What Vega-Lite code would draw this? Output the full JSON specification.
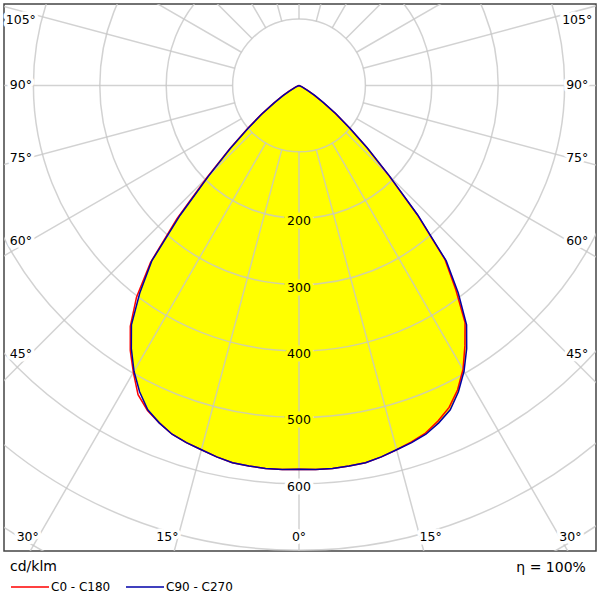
{
  "$schema": "https://vega.github.io/schema/vega-lite/v6.json",
  "autosize": {"type": "none"},
  "padding": {"left": 4, "top": 4, "right": 4, "bottom": 49},
  "width": 592,
  "height": 547,
  "background": "#ffffff",
  "datasets": {
    "curve": [
      {"s": "C0 - C180", "g": -90, "I": 0}, {"s": "C0 - C180", "g": -80, "I": 0}, {"s": "C0 - C180", "g": -70, "I": 0},
      {"s": "C0 - C180", "g": -65, "I": 6}, {"s": "C0 - C180", "g": -60, "I": 18}, {"s": "C0 - C180", "g": -57.5, "I": 31},
      {"s": "C0 - C180", "g": -55, "I": 47}, {"s": "C0 - C180", "g": -52.5, "I": 72}, {"s": "C0 - C180", "g": -50, "I": 102},
      {"s": "C0 - C180", "g": -47.5, "I": 143}, {"s": "C0 - C180", "g": -45, "I": 196}, {"s": "C0 - C180", "g": -42.5, "I": 272},
      {"s": "C0 - C180", "g": -40, "I": 348}, {"s": "C0 - C180", "g": -37.5, "I": 402}, {"s": "C0 - C180", "g": -35, "I": 443},
      {"s": "C0 - C180", "g": -32.5, "I": 473}, {"s": "C0 - C180", "g": -30, "I": 499}, {"s": "C0 - C180", "g": -27.5, "I": 525},
      {"s": "C0 - C180", "g": -25, "I": 540}, {"s": "C0 - C180", "g": -22.5, "I": 550}, {"s": "C0 - C180", "g": -20, "I": 559},
      {"s": "C0 - C180", "g": -17.5, "I": 564}, {"s": "C0 - C180", "g": -15, "I": 568}, {"s": "C0 - C180", "g": -12.5, "I": 573},
      {"s": "C0 - C180", "g": -10, "I": 577}, {"s": "C0 - C180", "g": -7.5, "I": 578}, {"s": "C0 - C180", "g": -5, "I": 579},
      {"s": "C0 - C180", "g": -2.5, "I": 579}, {"s": "C0 - C180", "g": 0, "I": 578},
      {"s": "C0 - C180", "g": 2.5, "I": 579}, {"s": "C0 - C180", "g": 5, "I": 579}, {"s": "C0 - C180", "g": 7.5, "I": 578},
      {"s": "C0 - C180", "g": 10, "I": 577}, {"s": "C0 - C180", "g": 12.5, "I": 573}, {"s": "C0 - C180", "g": 15, "I": 568},
      {"s": "C0 - C180", "g": 17.5, "I": 563}, {"s": "C0 - C180", "g": 20, "I": 557}, {"s": "C0 - C180", "g": 22.5, "I": 547},
      {"s": "C0 - C180", "g": 25, "I": 535}, {"s": "C0 - C180", "g": 27.5, "I": 517}, {"s": "C0 - C180", "g": 30, "I": 494},
      {"s": "C0 - C180", "g": 32.5, "I": 465}, {"s": "C0 - C180", "g": 35, "I": 436}, {"s": "C0 - C180", "g": 37.5, "I": 388},
      {"s": "C0 - C180", "g": 40, "I": 342}, {"s": "C0 - C180", "g": 42.5, "I": 263}, {"s": "C0 - C180", "g": 45, "I": 190},
      {"s": "C0 - C180", "g": 47.5, "I": 139}, {"s": "C0 - C180", "g": 50, "I": 99}, {"s": "C0 - C180", "g": 52.5, "I": 69},
      {"s": "C0 - C180", "g": 55, "I": 44}, {"s": "C0 - C180", "g": 57.5, "I": 27}, {"s": "C0 - C180", "g": 60, "I": 15},
      {"s": "C0 - C180", "g": 65, "I": 5}, {"s": "C0 - C180", "g": 70, "I": 0}, {"s": "C0 - C180", "g": 80, "I": 0},
      {"s": "C0 - C180", "g": 90, "I": 0},
      {"s": "C90 - C270", "g": -90, "I": 0}, {"s": "C90 - C270", "g": -80, "I": 0}, {"s": "C90 - C270", "g": -70, "I": 0},
      {"s": "C90 - C270", "g": -65, "I": 5}, {"s": "C90 - C270", "g": -60, "I": 16}, {"s": "C90 - C270", "g": -57.5, "I": 28},
      {"s": "C90 - C270", "g": -55, "I": 45}, {"s": "C90 - C270", "g": -52.5, "I": 70}, {"s": "C90 - C270", "g": -50, "I": 100},
      {"s": "C90 - C270", "g": -47.5, "I": 140}, {"s": "C90 - C270", "g": -45, "I": 192}, {"s": "C90 - C270", "g": -42.5, "I": 265},
      {"s": "C90 - C270", "g": -40, "I": 345}, {"s": "C90 - C270", "g": -37.5, "I": 394}, {"s": "C90 - C270", "g": -35, "I": 440},
      {"s": "C90 - C270", "g": -32.5, "I": 470}, {"s": "C90 - C270", "g": -30, "I": 497}, {"s": "C90 - C270", "g": -27.5, "I": 520},
      {"s": "C90 - C270", "g": -25, "I": 539}, {"s": "C90 - C270", "g": -22.5, "I": 550}, {"s": "C90 - C270", "g": -20, "I": 559},
      {"s": "C90 - C270", "g": -17.5, "I": 564}, {"s": "C90 - C270", "g": -15, "I": 568}, {"s": "C90 - C270", "g": -12.5, "I": 573},
      {"s": "C90 - C270", "g": -10, "I": 577}, {"s": "C90 - C270", "g": -7.5, "I": 578}, {"s": "C90 - C270", "g": -5, "I": 579},
      {"s": "C90 - C270", "g": -2.5, "I": 579}, {"s": "C90 - C270", "g": 0, "I": 578},
      {"s": "C90 - C270", "g": 2.5, "I": 579}, {"s": "C90 - C270", "g": 5, "I": 579}, {"s": "C90 - C270", "g": 7.5, "I": 578},
      {"s": "C90 - C270", "g": 10, "I": 577}, {"s": "C90 - C270", "g": 12.5, "I": 573}, {"s": "C90 - C270", "g": 15, "I": 568},
      {"s": "C90 - C270", "g": 17.5, "I": 564}, {"s": "C90 - C270", "g": 20, "I": 559}, {"s": "C90 - C270", "g": 22.5, "I": 550},
      {"s": "C90 - C270", "g": 25, "I": 539}, {"s": "C90 - C270", "g": 27.5, "I": 520}, {"s": "C90 - C270", "g": 30, "I": 497},
      {"s": "C90 - C270", "g": 32.5, "I": 470}, {"s": "C90 - C270", "g": 35, "I": 440}, {"s": "C90 - C270", "g": 37.5, "I": 394},
      {"s": "C90 - C270", "g": 40, "I": 345}, {"s": "C90 - C270", "g": 42.5, "I": 265}, {"s": "C90 - C270", "g": 45, "I": 192},
      {"s": "C90 - C270", "g": 47.5, "I": 140}, {"s": "C90 - C270", "g": 50, "I": 100}, {"s": "C90 - C270", "g": 52.5, "I": 70},
      {"s": "C90 - C270", "g": 55, "I": 45}, {"s": "C90 - C270", "g": 57.5, "I": 28}, {"s": "C90 - C270", "g": 60, "I": 16},
      {"s": "C90 - C270", "g": 65, "I": 5}, {"s": "C90 - C270", "g": 70, "I": 0}, {"s": "C90 - C270", "g": 80, "I": 0},
      {"s": "C90 - C270", "g": 90, "I": 0}
    ],
    "circles": [{"r": 100}, {"r": 200}, {"r": 300}, {"r": 400}, {"r": 500}, {"r": 600}, {"r": 700}, {"r": 800}],
    "spokes": [
      {"a": 0}, {"a": 15}, {"a": 30}, {"a": 45}, {"a": 60}, {"a": 75}, {"a": 90}, {"a": 105},
      {"a": 120}, {"a": 135}, {"a": 150}, {"a": 165}, {"a": 180}, {"a": 195}, {"a": 210}, {"a": 225},
      {"a": 240}, {"a": 255}, {"a": 270}, {"a": 285}, {"a": 300}, {"a": 315}, {"a": 330}, {"a": 345}
    ],
    "ilabels": [{"v": 200}, {"v": 300}, {"v": 400}, {"v": 500}, {"v": 600}],
    "anglelabels": [
      {"a": -105, "t": "105°", "edge": "side"}, {"a": -90, "t": "90°", "edge": "side"}, {"a": -75, "t": "75°", "edge": "side"},
      {"a": -60, "t": "60°", "edge": "side"}, {"a": -45, "t": "45°", "edge": "side"},
      {"a": 105, "t": "105°", "edge": "side"}, {"a": 90, "t": "90°", "edge": "side"}, {"a": 75, "t": "75°", "edge": "side"},
      {"a": 60, "t": "60°", "edge": "side"}, {"a": 45, "t": "45°", "edge": "side"},
      {"a": -30, "t": "30°", "edge": "bottom"}, {"a": -15, "t": "15°", "edge": "bottom"}, {"a": 0, "t": "0°", "edge": "bottom"},
      {"a": 15, "t": "15°", "edge": "bottom"}, {"a": 30, "t": "30°", "edge": "bottom"}
    ],
    "eta": [{"t": "η = 100%"}]
  },
  "layer": [
    {
      "data": {"name": "curve"},
      "transform": [
        {"filter": "datum.s === 'C90 - C270'"},
        {"calculate": "datum.I * sin(datum.g * PI / 180)", "as": "x"},
        {"calculate": "-datum.I * cos(datum.g * PI / 180)", "as": "y"}
      ],
      "mark": {"type": "line", "fill": "#ffff00", "stroke": "transparent", "strokeWidth": 0},
      "encoding": {
        "x": {"field": "x", "type": "quantitative", "scale": {"domain": [-444.3, 447.3], "nice": false, "zero": false}},
        "y": {"field": "y", "type": "quantitative", "scale": {"domain": [-701.1, 122.7], "nice": false, "zero": false}},
        "order": {"field": "g", "type": "quantitative"}
      }
    },
    {
      "data": {"name": "circles"},
      "mark": {"type": "arc", "filled": false, "stroke": "#c7c7c7", "strokeOpacity": 0.8, "strokeWidth": 1.5, "theta": 0, "theta2": 6.2832, "clip": true},
      "encoding": {
        "x": {"datum": 0, "type": "quantitative"},
        "y": {"datum": 0, "type": "quantitative"},
        "radius": {"field": "r", "type": "quantitative", "stack": null, "scale": {"type": "linear", "domain": [0, 700], "range": [0, 464.8], "zero": true}}
      }
    },
    {
      "data": {"name": "spokes"},
      "mark": {"type": "arc", "filled": false, "stroke": "#c7c7c7", "strokeOpacity": 0.8, "strokeWidth": 1.5, "clip": true},
      "encoding": {
        "x": {"datum": 0, "type": "quantitative"},
        "y": {"datum": 0, "type": "quantitative"},
        "theta": {"field": "a", "type": "quantitative", "stack": null, "scale": {"type": "linear", "domain": [0, 360], "range": [3.14159265, -3.14159265]}},
        "theta2": {"field": "a"},
        "radius": {"datum": 1300, "type": "quantitative", "stack": null},
        "radius2": {"datum": 100}
      }
    },
    {
      "data": {"name": "curve"},
      "transform": [
        {"calculate": "datum.I * sin(datum.g * PI / 180)", "as": "x"},
        {"calculate": "-datum.I * cos(datum.g * PI / 180)", "as": "y"}
      ],
      "mark": {"type": "line", "strokeWidth": 1.5},
      "encoding": {
        "x": {"field": "x", "type": "quantitative"},
        "y": {"field": "y", "type": "quantitative"},
        "order": {"field": "g", "type": "quantitative"},
        "color": {
          "field": "s", "type": "nominal",
          "scale": {"domain": ["C0 - C180", "C90 - C270"], "range": ["#ff0000", "#0000a8"]},
          "legend": {
            "title": "cd/klm", "orient": "none", "legendX": 6, "legendY": 556, "direction": "horizontal",
            "symbolType": "stroke", "symbolSize": 1444, "symbolStrokeWidth": 1.5,
            "labelFont": "DejaVu Sans", "labelFontSize": 12, "labelColor": "#000000", "labelOffset": 1,
            "titleFont": "DejaVu Sans", "titleFontSize": 14, "titleFontWeight": "normal", "titleColor": "#000000",
            "titlePadding": -7, "columnPadding": 12, "padding": 0
          }
        }
      }
    },
    {
      "data": {"name": "ilabels"},
      "transform": [{"filter": "datum.v <= 500"}, {"calculate": "-datum.v", "as": "y"}],
      "mark": {"type": "text", "font": "DejaVu Sans", "fontSize": 12.5, "fill": "#ffff00", "stroke": "#ffff00", "strokeWidth": 7, "strokeJoin": "round", "baseline": "middle", "dy": 3},
      "encoding": {
        "x": {"datum": 0, "type": "quantitative"},
        "y": {"field": "y", "type": "quantitative"},
        "text": {"field": "v", "type": "nominal"}
      }
    },
    {
      "data": {"name": "ilabels"},
      "transform": [{"filter": "datum.v > 500"}, {"calculate": "-datum.v", "as": "y"}],
      "mark": {"type": "text", "font": "DejaVu Sans", "fontSize": 12.5, "fill": "#ffffff", "stroke": "#ffffff", "strokeWidth": 7, "strokeJoin": "round", "baseline": "middle", "dy": 3},
      "encoding": {
        "x": {"datum": 0, "type": "quantitative"},
        "y": {"field": "y", "type": "quantitative"},
        "text": {"field": "v", "type": "nominal"}
      }
    },
    {
      "data": {"name": "ilabels"},
      "transform": [{"calculate": "-datum.v", "as": "y"}],
      "mark": {"type": "text", "font": "DejaVu Sans", "fontSize": 12.5, "fill": "#000000", "baseline": "middle", "dy": 3},
      "encoding": {
        "x": {"datum": 0, "type": "quantitative"},
        "y": {"field": "y", "type": "quantitative"},
        "text": {"field": "v", "type": "nominal"}
      }
    },
    {
      "data": {"name": "anglelabels"},
      "transform": [
        {"calculate": "datum.edge === 'side' ? (datum.a > 0 ? 419 : -419) : 680 * tan(datum.a * PI / 180) + (datum.a > 0 ? 16 : (datum.a < 0 ? -16 : 0))", "as": "x"},
        {"calculate": "datum.edge === 'side' ? min(98.6, -405 * cos(datum.a * PI / 180) / abs(sin(datum.a * PI / 180))) : -680", "as": "y"}
      ],
      "mark": {"type": "text", "font": "DejaVu Sans", "fontSize": 12.5, "fill": "#ffffff", "stroke": "#ffffff", "strokeWidth": 7, "strokeJoin": "round", "baseline": "middle"},
      "encoding": {
        "x": {"field": "x", "type": "quantitative"},
        "y": {"field": "y", "type": "quantitative"},
        "text": {"field": "t", "type": "nominal"}
      }
    },
    {
      "data": {"name": "anglelabels"},
      "transform": [
        {"calculate": "datum.edge === 'side' ? (datum.a > 0 ? 419 : -419) : 680 * tan(datum.a * PI / 180) + (datum.a > 0 ? 16 : (datum.a < 0 ? -16 : 0))", "as": "x"},
        {"calculate": "datum.edge === 'side' ? min(98.6, -405 * cos(datum.a * PI / 180) / abs(sin(datum.a * PI / 180))) : -680", "as": "y"}
      ],
      "mark": {"type": "text", "font": "DejaVu Sans", "fontSize": 12.5, "fill": "#000000", "baseline": "middle"},
      "encoding": {
        "x": {"field": "x", "type": "quantitative"},
        "y": {"field": "y", "type": "quantitative"},
        "text": {"field": "t", "type": "nominal"}
      }
    },
    {
      "data": {"name": "eta"},
      "mark": {"type": "text", "font": "DejaVu Sans", "fontSize": 14, "fill": "#000000", "align": "right", "baseline": "middle"},
      "encoding": {
        "x": {"datum": 432, "type": "quantitative"},
        "y": {"datum": -726.7, "type": "quantitative"},
        "text": {"field": "t", "type": "nominal"}
      }
    }
  ],
  "config": {
    "view": {"stroke": "#444444", "strokeWidth": 1.5},
    "axis": {"disable": true}
  }
}
